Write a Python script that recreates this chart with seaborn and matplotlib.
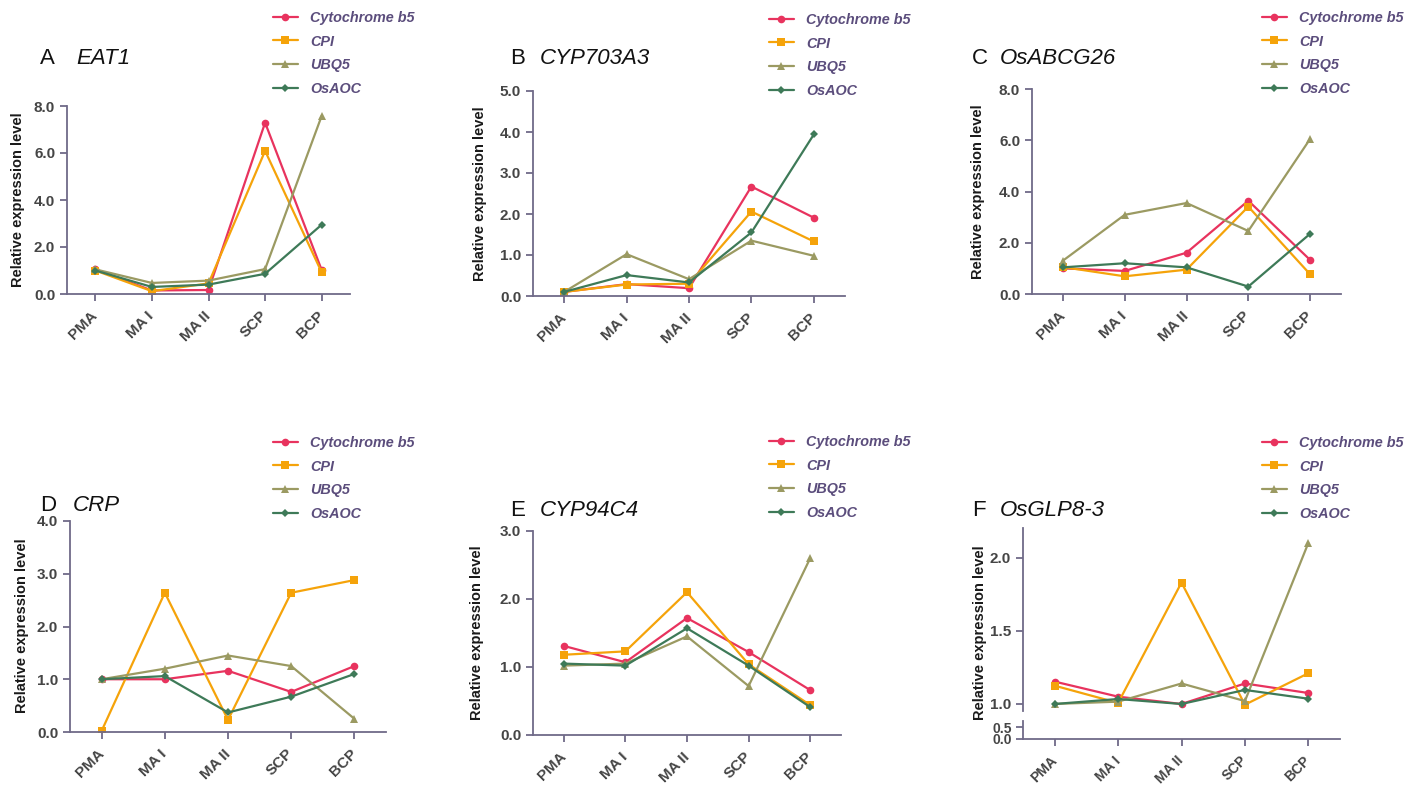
import matplotlib
matplotlib.use("Agg")
import matplotlib.pyplot as plt
from matplotlib.ticker import FormatStrFormatter
import seaborn as sns
import pandas as pd

sns.set_style("white")
plt.rcParams['font.family'] = ['Liberation Sans', 'DejaVu Sans']

# ---------------- data ----------------
stages = ["PMA", "MA I", "MA II", "SCP", "BCP"]
series_names = ["Cytochrome b5", "CPI", "UBQ5", "OsAOC"]

eat1_cytb5 = [1.05, 0.15, 0.17, 7.29, 1.02]
eat1_cpi   = [1.00, 0.12, 0.45, 6.09, 0.92]
eat1_ubq5  = [1.05, 0.47, 0.57, 1.06, 7.58]
eat1_osaoc = [1.00, 0.30, 0.40, 0.86, 2.95]

cyp703_cytb5 = [0.10, 0.29, 0.19, 2.67, 1.91]
cyp703_cpi   = [0.10, 0.28, 0.30, 2.06, 1.33]
cyp703_ubq5  = [0.10, 1.02, 0.41, 1.35, 0.98]
cyp703_osaoc = [0.10, 0.51, 0.33, 1.55, 3.94]

abcg26_cytb5 = [1.00, 0.90, 1.61, 3.64, 1.33]
abcg26_cpi   = [1.05, 0.69, 0.95, 3.41, 0.77]
abcg26_ubq5  = [1.30, 3.09, 3.55, 2.46, 6.05]
abcg26_osaoc = [1.04, 1.20, 1.04, 0.29, 2.35]

crp_cytb5 = [1.00, 1.00, 1.16, 0.76, 1.25]
crp_cpi   = [0.02, 2.64, 0.23, 2.64, 2.88]
crp_ubq5  = [1.00, 1.20, 1.45, 1.25, 0.25]
crp_osaoc = [1.00, 1.06, 0.37, 0.67, 1.10]

cyp94_cytb5 = [1.31, 1.07, 1.72, 1.22, 0.66]
cyp94_cpi   = [1.18, 1.23, 2.10, 1.04, 0.44]
cyp94_ubq5  = [1.02, 1.05, 1.45, 0.72, 2.60]
cyp94_osaoc = [1.05, 1.02, 1.57, 1.02, 0.41]

glp_cytb5 = [1.153, 1.050, 1.000, 1.140, 1.075]
glp_cpi   = [1.125, 1.007, 1.830, 0.995, 1.210]
glp_ubq5  = [1.000, 1.016, 1.140, 1.020, 2.100]
glp_osaoc = [1.000, 1.034, 1.000, 1.096, 1.036]

panel_letters = ["A", "B", "C", "D", "E", "F"]
panel_genes = ["EAT1", "CYP703A3", "OsABCG26", "CRP", "CYP94C4", "OsGLP8-3"]
panel_data = [
    [eat1_cytb5, eat1_cpi, eat1_ubq5, eat1_osaoc],
    [cyp703_cytb5, cyp703_cpi, cyp703_ubq5, cyp703_osaoc],
    [abcg26_cytb5, abcg26_cpi, abcg26_ubq5, abcg26_osaoc],
    [crp_cytb5, crp_cpi, crp_ubq5, crp_osaoc],
    [cyp94_cytb5, cyp94_cpi, cyp94_ubq5, cyp94_osaoc],
    [glp_cytb5, glp_cpi, glp_ubq5, glp_osaoc],
]
panel_ymax = [8, 5, 8, 4, 3, None]
panel_ystep = [2, 1, 2, 1, 1, None]

# ---------------- style ----------------
colors = ["#e8335e", "#f5a30a", "#9b9a62", "#3e7a58"]
markers = ["o", "s", "^", "D"]
msizes = [5.5, 5.5, 5.5, 4.5]
spine_col = "#6f6a88"
tick_col = "#454545"
legend_col = "#5b4d7c"

W, H = 1418, 786
fig = plt.figure(figsize=(W / 100, H / 100), dpi=100)


def rect(l, r, b, t):
    return [l / W, 1 - b / H, (r - l) / W, (b - t) / H]


# axes boxes in pixels: left, right, bottom, top
boxes = [
    (67, 350, 294, 106),
    (533, 845, 296, 91),
    (1032, 1341, 294, 89),
    (70, 386, 732, 521),
    (533, 841, 735, 531),
    (1023, 1340, 711, 528),
]
titles_xy = [(40, 76, 58), (510, 540, 58), (972, 1000, 58),
             (40, 73, 505), (510, 540, 510), (972, 1000, 510)]
ylabel_xy = [(18, 200), (480, 194), (978, 192), (22, 626), (477, 633), (980, 633)]
legend_xy = [(273, 11), (769, 13), (1262, 11), (273, 436), (769, 435), (1262, 436)]


def style_axis(ax, show_x=True, size=11):
    for s in ["top", "right"]:
        ax.spines[s].set_visible(False)
    for s in ["left", "bottom"]:
        ax.spines[s].set_color(spine_col)
        ax.spines[s].set_linewidth(1.3)
    ax.tick_params(axis="both", which="both", direction="out", color=spine_col,
                   width=1.3, length=5, labelcolor=tick_col, labelsize=size,
                   left=True, bottom=show_x)
    for lab in ax.get_yticklabels():
        lab.set_fontweight("bold")


def draw_series(ax, data):
    for name, vals, c, m, ms in zip(series_names, data, colors, markers, msizes):
        df = pd.DataFrame({"stage": stages, "value": vals})
        sns.lineplot(data=df, x="stage", y="value", color=c, marker=m,
                     markersize=ms, markeredgewidth=0, linewidth=1.6,
                     sort=False, label=name, ax=ax, legend=False)


def set_xticks(ax):
    ax.set_xticks(range(len(stages)))
    ax.set_xticklabels(stages, rotation=45, ha="right", va="center",
                       rotation_mode="anchor", fontweight="bold",
                       fontsize=10.5, color=tick_col)
    ax.tick_params(axis="x", pad=9)


for i in range(6):
    l, r, b, t = boxes[i]
    ax = fig.add_axes(rect(l, r, b, t))
    ax.set_facecolor("none")
    draw_series(ax, panel_data[i])
    ax.set_xlim(-0.5, 4.5)
    ax.set_xlabel("")
    ax.set_ylabel("")
    if panel_ymax[i] is not None:
        ymax = panel_ymax[i]
        ax.set_ylim(0, ymax)
        ticks = list(range(0, ymax + 1, panel_ystep[i]))
        ax.set_yticks(ticks)
        ax.yaxis.set_major_formatter(FormatStrFormatter("%.1f"))
        set_xticks(ax)
        style_axis(ax)
    else:
        # broken axis panel: upper part
        ax.set_ylim(0.952, 2.203)
        ax.set_yticks([1.0, 1.5, 2.0])
        ax.yaxis.set_major_formatter(FormatStrFormatter("%.1f"))
        ax.set_xticks(range(len(stages)))
        ax.set_xticklabels([])
        style_axis(ax, show_x=False)
        ax.spines["bottom"].set_visible(False)
        # lower part
        axl = fig.add_axes(rect(l, r, 739, 721))
        axl.set_facecolor("none")
        axl.set_xlim(-0.5, 4.5)
        axl.set_ylim(0, 0.77)
        axl.set_yticks([0.0, 0.5])
        axl.yaxis.set_major_formatter(FormatStrFormatter("%.1f"))
        set_xticks(axl)
        style_axis(axl, size=10)
        axl.tick_params(axis="y", pad=3)

    # legend
    lx, ly = legend_xy[i]
    leg = ax.legend(loc="upper left", bbox_to_anchor=(lx / W, 1 - ly / H),
                    bbox_transform=fig.transFigure, frameon=False,
                    borderpad=0, borderaxespad=0, handlelength=1.7,
                    handletextpad=0.85, labelspacing=0.66,
                    prop={"size": 10.4, "weight": "bold", "style": "italic"})
    for txt in leg.get_texts():
        txt.set_color(legend_col)

    # title
    tx1, tx2, ty = titles_xy[i]
    fig.text(tx1 / W, 1 - ty / H, panel_letters[i], fontsize=16,
             ha="left", va="center", color="#111111")
    fig.text(tx2 / W, 1 - ty / H, panel_genes[i], fontsize=16,
             style="italic", ha="left", va="center", color="#111111")

    # y label
    yx, yy = ylabel_xy[i]
    fig.text(yx / W, 1 - yy / H, "Relative expression level", rotation=90,
             fontsize=10.5, fontweight="bold", ha="center", va="center",
             color="#1a1a1a")

fig.savefig("out.png", dpi=100)
